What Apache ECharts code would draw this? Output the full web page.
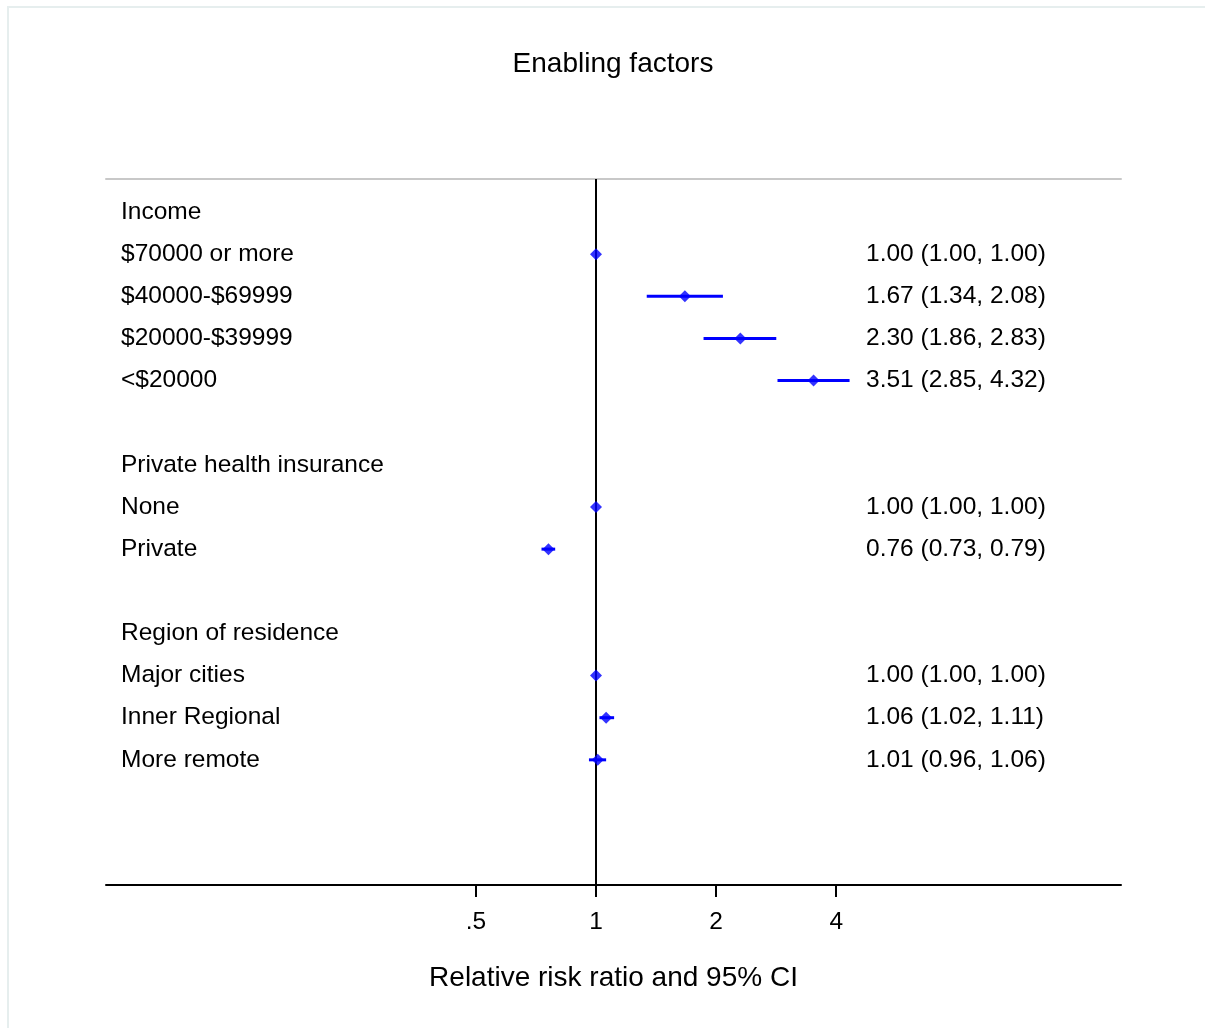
<!DOCTYPE html>
<html>
<head>
<meta charset="utf-8">
<title>Enabling factors</title>
<script src="https://cdn.jsdelivr.net/npm/echarts@6/dist/echarts.min.js"></script>
<style>
  html, body { margin: 0; padding: 0; background: #ffffff; }
  #chart { width: 1205px; height: 1028px; }
</style>
</head>
<body>
<div id="chart"></div>
<script>
// Row labels, top to bottom (blank strings are spacer rows)
const rowLabels = [
  'Income', '$70000 or more', '$40000-$69999', '$20000-$39999', '<$20000',
  '',
  'Private health insurance', 'None', 'Private',
  '',
  'Region of residence', 'Major cities', 'Inner Regional', 'More remote'
];
// Relative risk ratios with 95% confidence limits (null for header/spacer rows)
const ratio  = [null, 1.00, 1.67, 2.30, 3.51, null, null, 1.00, 0.76, null, null, 1.00, 1.06, 1.01];
const ciLow  = [null, 1.00, 1.34, 1.86, 2.85, null, null, 1.00, 0.73, null, null, 1.00, 1.02, 0.96];
const ciHigh = [null, 1.00, 2.08, 2.83, 4.32, null, null, 1.00, 0.79, null, null, 1.00, 1.11, 1.06];
// Axis ticks on the ratio scale
const tickValues = [0.5, 1, 2, 4];
const tickLabels = ['.5', '1', '2', '4'];

const FONT = "'Liberation Sans', Arial, sans-serif";
const LABEL_SIZE = 24.5;
const log2 = Math.log2;

const pointData = [];
const ciData = [];
ratio.forEach((v, i) => {
  if (v == null) return;
  pointData.push([log2(v), i]);
  ciData.push([log2(ciLow[i]), log2(ciHigh[i]), i]);
});

const rightText = ratio.map((v, i) =>
  v == null ? '' : v.toFixed(2) + ' (' + ciLow[i].toFixed(2) + ', ' + ciHigh[i].toFixed(2) + ')'
);
const rowIndex = rowLabels.map((_, i) => i);
const tickPos = tickValues.map(log2);

const chart = echarts.init(document.getElementById('chart'), null, { renderer: 'canvas' });

const option = {
  backgroundColor: '#ffffff',
  animation: false,
  textStyle: { fontFamily: FONT, color: '#000' },
  graphic: [{
    type: 'rect',
    silent: true,
    shape: { x: 8, y: 7, width: 1220, height: 1100 },
    style: { fill: 'none', stroke: '#e6eeee', lineWidth: 2 }
  }],
  title: {
    text: 'Enabling factors',
    left: 613,
    top: 45,
    padding: [5, 0, 5, 0],
    textAlign: 'center',
    textStyle: { fontFamily: FONT, fontSize: 28, fontWeight: 'normal', color: '#000' }
  },
  grid: { left: 106, right: 84, top: 179, bottom: 143 },
  xAxis: [{
    type: 'value',
    min: -4.080,
    max: 4.371,
    position: 'bottom',
    axisLine: { show: true, onZero: false, lineStyle: { color: '#000', width: 2 } },
    axisTick: { show: true, length: 12, lineStyle: { color: '#000', width: 2 }, customValues: tickPos },
    axisLabel: {
      customValues: tickPos,
      margin: 25,
      fontSize: LABEL_SIZE,
      fontFamily: FONT,
      color: '#000',
      formatter: (val) => {
        const k = tickPos.findIndex(p => Math.abs(p - val) < 1e-6);
        return k >= 0 ? tickLabels[k] : '';
      }
    },
    splitLine: { show: false },
    name: 'Relative risk ratio and 95% CI',
    nameLocation: 'middle',
    nameGap: 79,
    nameTextStyle: { fontSize: 28, fontFamily: FONT, color: '#000' }
  }, {
    type: 'value',
    min: -4.080,
    max: 4.371,
    position: 'top',
    axisLine: { show: true, onZero: false, lineStyle: { color: '#c8c8c8', width: 2 } },
    axisTick: { show: false },
    axisLabel: { show: false },
    splitLine: { show: false }
  }],
  yAxis: [{
    type: 'value',
    inverse: true,
    min: -0.783,
    max: 15.97,
    position: 'left',
    axisLine: { show: false },
    axisTick: { show: false },
    splitLine: { show: false },
    axisLabel: {
      inside: true,
      align: 'left',
      margin: 15,
      customValues: rowIndex,
      fontSize: LABEL_SIZE,
      fontFamily: FONT,
      color: '#000',
      formatter: (val) => rowLabels[Math.round(val)] || ''
    }
  }, {
    type: 'value',
    inverse: true,
    min: -0.783,
    max: 15.97,
    position: 'right',
    axisLine: { show: false },
    axisTick: { show: false },
    splitLine: { show: false },
    axisLabel: {
      inside: true,
      align: 'left',
      margin: 255,
      customValues: rowIndex,
      fontSize: LABEL_SIZE,
      fontFamily: FONT,
      color: '#000',
      formatter: (val) => rightText[Math.round(val)] || ''
    }
  }],
  series: [{
    name: 'CI',
    type: 'custom',
    xAxisIndex: 0,
    yAxisIndex: 0,
    data: ciData,
    encode: { x: [0, 1], y: 2 },
    renderItem: (params, api) => {
      const a = api.coord([api.value(0), api.value(2)]);
      const b = api.coord([api.value(1), api.value(2)]);
      return {
        type: 'line',
        shape: { x1: a[0], y1: a[1], x2: b[0], y2: b[1] },
        style: { stroke: '#0000ff', lineWidth: 3 }
      };
    },
    markLine: {
      silent: true,
      symbol: ['none', 'none'],
      label: { show: false },
      lineStyle: { color: '#000', width: 2, type: 'solid' },
      data: [{ xAxis: 0 }],
      z: 1
    },
    z: 3
  }, {
    name: 'Ratio',
    type: 'scatter',
    xAxisIndex: 0,
    yAxisIndex: 0,
    data: pointData,
    symbol: 'diamond',
    symbolSize: [12, 12],
    itemStyle: { color: '#0000ff' },
    z: 4
  }]
};

chart.setOption(option);
</script>
</body>
</html>
